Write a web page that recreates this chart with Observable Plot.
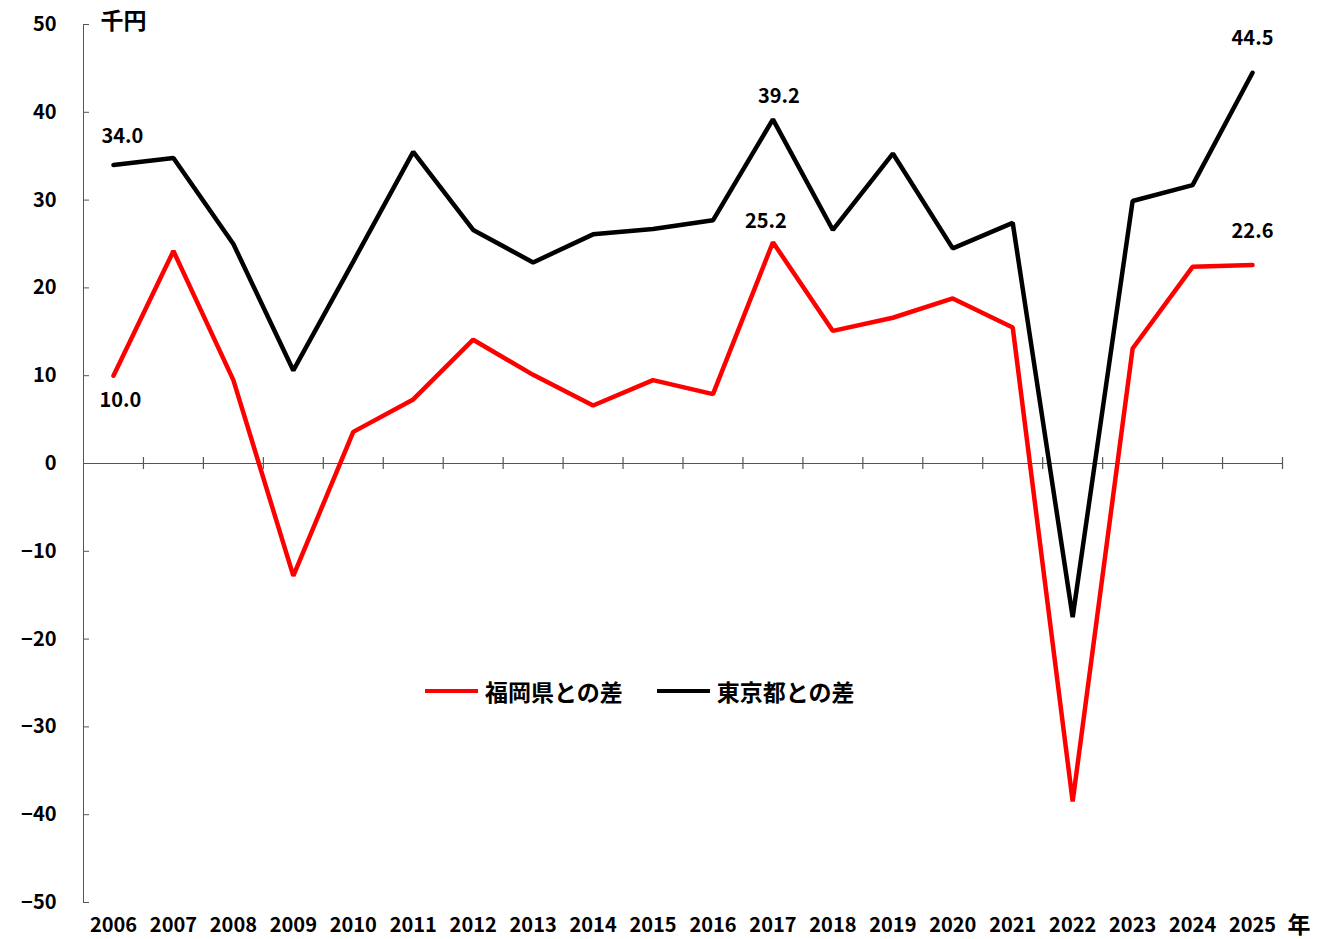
<!DOCTYPE html>
<html>
<head>
<meta charset="utf-8">
<script src="https://cdn.jsdelivr.net/npm/d3@7"></script>
<script src="https://cdn.jsdelivr.net/npm/@observablehq/plot@0.6"></script>
<style>
  html, body { margin: 0; padding: 0; background: #fff; }
  #wrap { position: relative; width: 1340px; height: 939px; }
  #legend { position: absolute; left: 425px; top: 674px; display: flex; align-items: center;
    font-family: 'Noto Sans CJK JP', sans-serif; font-weight: bold; font-size: 23px; color: #000; }
  .sw { display: inline-block; width: 53px; height: 4px; margin-right: 7px; }
  .item { display: flex; align-items: center; }
</style>
</head>
<body>
<div id="wrap"></div>
<script>
const years   = [2006, 2007, 2008, 2009, 2010, 2011, 2012, 2013, 2014, 2015, 2016, 2017, 2018, 2019, 2020, 2021, 2022, 2023, 2024, 2025];
const fukuoka = [10.0, 24.2, 9.5, -12.8, 3.6, 7.3, 14.1, 10.1, 6.6, 9.5, 7.9, 25.2, 15.1, 16.6, 18.8, 15.5, -38.5, 13.1, 22.4, 22.6];
const tokyo   = [34.0, 34.8, 25.0, 10.6, 23.0, 35.5, 26.6, 22.9, 26.1, 26.7, 27.7, 39.2, 26.6, 35.3, 24.5, 27.4, -17.5, 29.9, 31.7, 44.5];
const seriesNames = ["福岡県との差", "東京都との差"];
const seriesColors = ["#ff0000", "#000000"];
const yTicks = [-50, -40, -30, -20, -10, 0, 10, 20, 30, 40, 50];
const labelYears = [2006, 2017, 2025];
const yUnit = "千円";
const xUnit = "年";

const FONT = "'Noto Sans CJK JP', sans-serif";
const data = [];
years.forEach((yr, i) => {
  data.push({year: yr, value: fukuoka[i], series: seriesNames[0]});
  data.push({year: yr, value: tokyo[i], series: seriesNames[1]});
});
const xDomain = [years[0] - 0.5, years[years.length - 1] + 0.5];
const boundaries = years.map(y => y + 0.5);
const labelData = data.filter(d => labelYears.includes(d.year));
const fmt = d => d.value.toFixed(1);
const axisColor = "#555";

function lab(year, series, dx, dy) {
  return Plot.text(labelData.filter(d => d.year === year && d.series === series), {
    x: "year", y: "value", text: fmt, dx, dy, fontSize: 20, fontWeight: "bold", fill: "#000", lineAnchor: "middle"
  });
}

const chart = Plot.plot({
  width: 1340,
  height: 939,
  marginLeft: 83,
  marginRight: 58,
  marginTop: 24,
  marginBottom: 37,
  style: {fontFamily: FONT, fontWeight: "bold", background: "#fff", color: "#000"},
  x: {type: "linear", domain: xDomain},
  y: {type: "linear", domain: [yTicks[0], yTicks[yTicks.length - 1]]},
  color: {domain: seriesNames, range: seriesColors},
  marks: [
    Plot.frame({anchor: "left", stroke: axisColor, strokeWidth: 1}),
    Plot.ruleY([0], {stroke: axisColor, strokeWidth: 1.2}),
    Plot.ruleX(boundaries, {x: d => d, y1: 0, y2: 0, insetTop: -6, insetBottom: -6, stroke: axisColor, strokeWidth: 1.2}),
    Plot.ruleY(yTicks, {y: d => d, x1: xDomain[0], x2: xDomain[0], insetRight: -6, stroke: axisColor, strokeWidth: 1}),
    Plot.axisY({ticks: yTicks, tickSize: 0, tickPadding: 27, fontSize: 20, fontWeight: "bold", label: null, tickFormat: d => d < 0 ? "−" + (-d) : String(d)}),
    Plot.axisX({ticks: years, tickSize: 0, tickPadding: 15, fontSize: 20, fontWeight: "bold", label: null, tickFormat: d => String(d)}),
    Plot.line(data, {x: "year", y: "value", stroke: "series", z: "series", strokeWidth: 4.5, strokeLinejoin: "miter", strokeLinecap: "round"}),
    lab(2006, seriesNames[1], 9, -28),
    lab(2006, seriesNames[0], 7, 25),
    lab(2017, seriesNames[1], 6, -23),
    lab(2017, seriesNames[0], -7, -21),
    lab(2025, seriesNames[1], 0, -34),
    lab(2025, seriesNames[0], 0, -33),
    Plot.text([yUnit], {frameAnchor: "top-left", dx: 17, dy: -3, textAnchor: "start", lineAnchor: "middle", fontSize: 23, fontWeight: "bold"}),
    Plot.text([xUnit], {frameAnchor: "bottom-right", dx: 5, dy: 23, textAnchor: "start", lineAnchor: "middle", fontSize: 23, fontWeight: "bold"})
  ]
});
const wrap = document.getElementById("wrap");
wrap.appendChild(chart);

const legend = document.createElement("div");
legend.id = "legend";
seriesNames.forEach((name, i) => {
  const item = document.createElement("span");
  item.className = "item";
  if (i > 0) item.style.marginLeft = "34px";
  const sw = document.createElement("span");
  sw.className = "sw";
  sw.style.background = seriesColors[i];
  const t = document.createElement("span");
  t.textContent = name;
  item.appendChild(sw);
  item.appendChild(t);
  legend.appendChild(item);
});
wrap.appendChild(legend);
</script>
</body>
</html>
